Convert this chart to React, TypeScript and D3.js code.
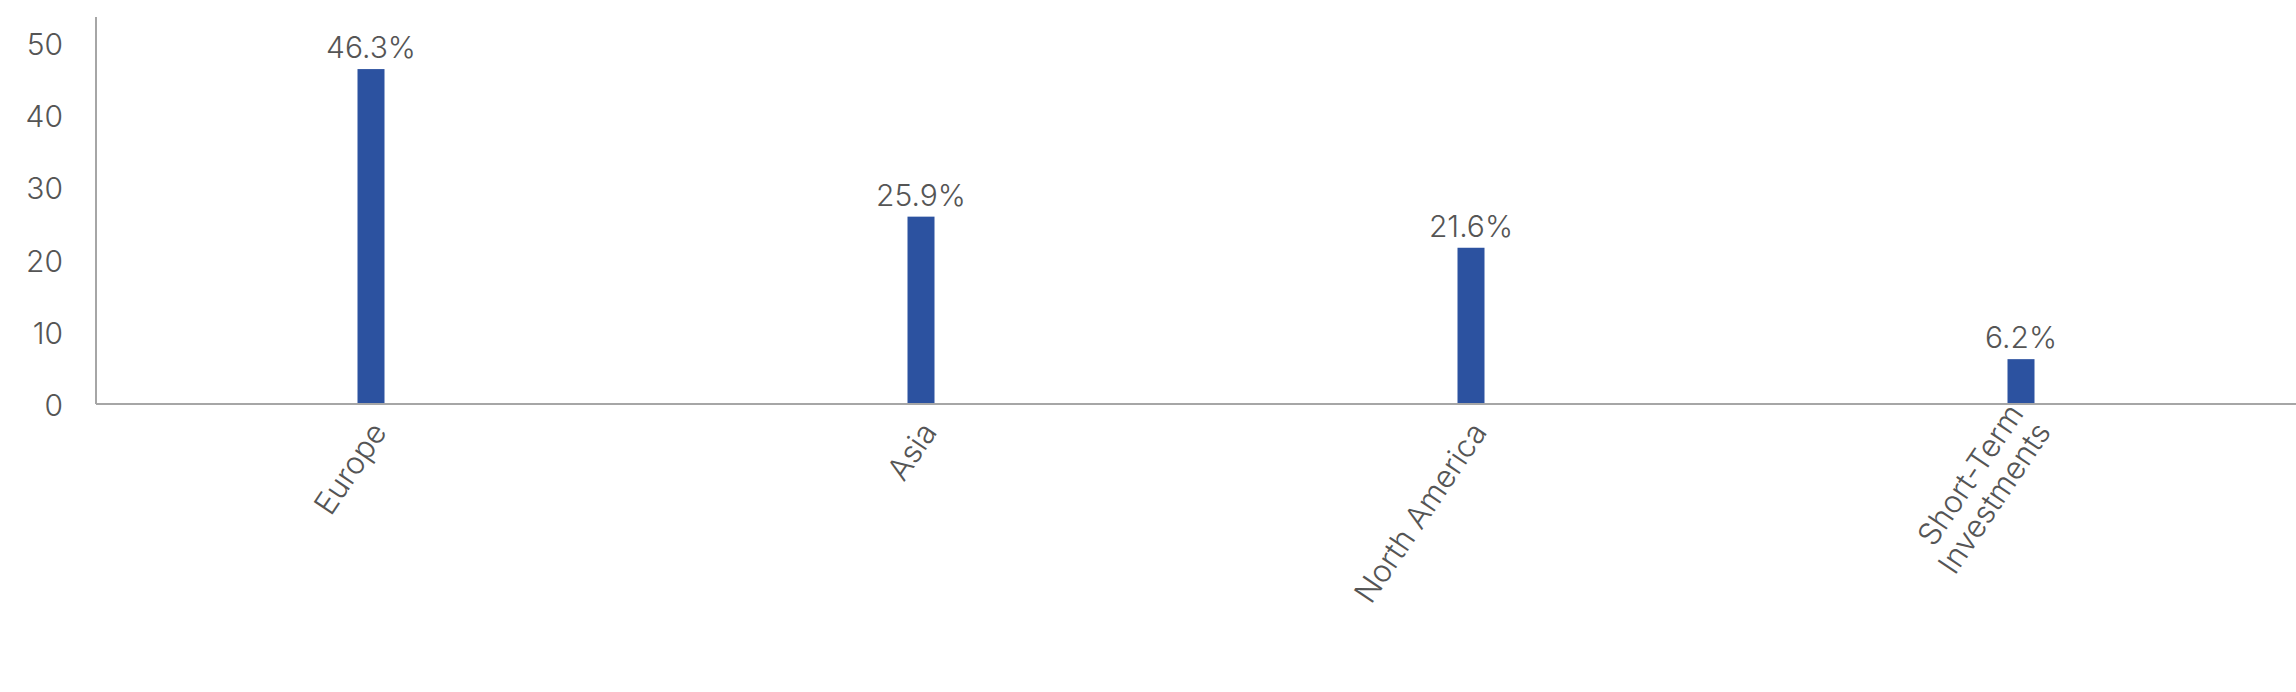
import React from "react";
import * as d3 from "d3";

const categories: string[][] = [["Europe"], ["Asia"], ["North America"], ["Short-Term", "Investments"]];
const categoryKeys = ["Europe", "Asia", "North America", "Short-Term Investments"];
const values = [46.3, 25.9, 21.6, 6.2];
const yTicks = [0, 10, 20, 30, 40, 50];

const W = 2296;
const H = 692;
const margin = { left: 96, right: 0, top: 17, bottom: 288 };
const FONT = "Inter, 'Noto Sans', sans-serif";

export default function App() {
  const x = d3
    .scaleBand<string>()
    .domain(categoryKeys)
    .range([margin.left, W - margin.right])
    .paddingInner(0.951)
    .paddingOuter(0.4755);
  const y = d3.scaleLinear().domain([0, 53.5]).range([H - margin.bottom, margin.top]);
  const y0 = y(0);
  const bw = 27;

  return (
    <div style={{ position: "absolute", left: 0, top: 0 }}>
      <svg width={W} height={H} style={{ display: "block", background: "#fff" }}>
        {yTicks.map((t) => (
          <text
            key={t}
            x={63}
            y={y(t) + 4}
            textAnchor="end"
            dominantBaseline="middle"
            fontFamily={FONT}
            fontWeight={300}
            fontSize={30}
            fill="#555"
          >
            {t}
          </text>
        ))}
        {categoryKeys.map((c, i) => {
          const cx = (x(c) as number) + x.bandwidth() / 2;
          const n = categories[i].length;
          return (
            <g key={c}>
              <rect x={cx - bw / 2} y={y(values[i])} width={bw} height={y0 - y(values[i])} fill="#2c52a0" />
              <text
                x={cx}
                y={y(values[i]) - 11}
                textAnchor="middle"
                fontFamily={FONT}
                fontWeight={300}
                fontSize={30}
                fill="#555"
              >
                {values[i].toFixed(1)}%
              </text>
              <text
                transform={`translate(${cx + 2 + (n - 1) * 14},${y0 + 18}) rotate(-56)`}
                textAnchor="end"
                fontFamily={FONT}
                fontWeight={300}
                fontSize={31}
                fill="#555"
              >
                {categories[i].map((line, k) => (
                  <tspan key={k} x={0} dy={k === 0 ? 18 - (n - 1) * 33 : 33}>
                    {line}
                  </tspan>
                ))}
              </text>
            </g>
          );
        })}
        <line x1={margin.left} x2={margin.left} y1={margin.top} y2={y0} stroke="#a6a6a6" strokeWidth={2} />
        <line x1={margin.left} x2={W} y1={y0} y2={y0} stroke="#a6a6a6" strokeWidth={2} />
      </svg>
    </div>
  );
}
